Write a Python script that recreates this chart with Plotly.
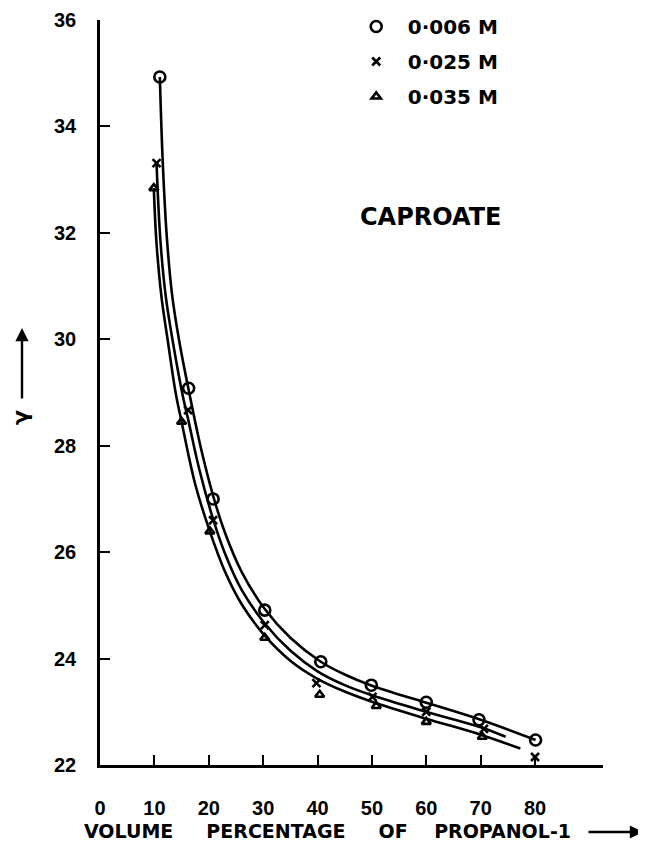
import plotly.graph_objects as go

# ---- measured points ----
c1_x = [11.0, 16.3, 20.8, 30.3, 40.6, 49.9, 60.0, 69.7, 80.1]
c1_y = [34.93, 29.08, 27.0, 24.91, 23.94, 23.5, 23.18, 22.85, 22.47]

c2_x = [10.4, 16.2, 20.8, 30.3, 39.8, 50.1, 60.0, 70.6, 80.0]
c2_y = [33.31, 28.67, 26.6, 24.63, 23.54, 23.28, 23.0, 22.68, 22.15]

c3_x = [9.9, 15.0, 20.2, 30.3, 40.4, 50.8, 60.0, 70.3]
c3_y = [32.84, 28.45, 26.39, 24.39, 23.32, 23.11, 22.81, 22.53]

# ---- smooth drawn curves ----
f1_x = [11.0, 11.55, 12.3, 13.3, 14.6, 16.4, 18.5, 20.8, 23.0, 26.0, 30.3, 35.0, 40.6, 45.0, 50.0, 60.0, 70.0, 80.1]
f1_y = [34.93, 33.3, 31.9, 30.8, 29.95, 29.0, 27.98, 27.06, 26.36, 25.64, 24.93, 24.39, 23.94, 23.70, 23.49, 23.17, 22.85, 22.47]

f2_x = [10.4, 11.1, 12.1, 13.4, 15.2, 16.2, 18.2, 20.8, 23.0, 26.0, 30.3, 35.0, 40.0, 45.0, 50.0, 60.0, 70.0, 74.6]
f2_y = [33.31, 31.87, 30.8, 29.95, 28.95, 28.5, 27.58, 26.62, 25.97, 25.3, 24.66, 24.15, 23.76, 23.5, 23.31, 23.0, 22.71, 22.53]

f3_x = [9.9, 10.35, 11.3, 12.5, 13.9, 15.0, 17.5, 20.2, 23.0, 26.0, 30.3, 35.0, 40.0, 45.0, 50.0, 60.0, 70.0, 77.3]
f3_y = [32.84, 31.87, 30.8, 29.95, 29.0, 28.45, 27.28, 26.39, 25.63, 25.03, 24.43, 23.96, 23.62, 23.38, 23.19, 22.87, 22.57, 22.31]

series_names = ["0·006 M", "0·025 M", "0·035 M"]
x_ticks = [0, 10, 20, 30, 40, 50, 60, 70, 80]
x_tick_text = ["0", "10", "20", "30", "40", "50", "60", "70", "80"]
y_ticks = [22, 24, 26, 28, 30, 32, 34, 36]

NUMFONT = "Liberation Sans"
TXTFONT = "DejaVu Sans"
BLACK = "#000000"

# page body has an 8px offset; plot area in page coords: left 100, top 20, right 603, bottom 765
L, T, R, B = 92, 12, 51, 88
PW = 646 - L - R   # 503
PH = 845 - T - B   # 745


def px(page_x):
    return (page_x - 100) / PW


def py(page_y):
    return (765 - page_y) / PH


NB = "\u00a0"

fig = go.Figure()

for fx, fy in [(f1_x, f1_y), (f2_x, f2_y), (f3_x, f3_y)]:
    fig.add_trace(go.Scatter(x=fx, y=fy, mode="lines", showlegend=False,
                             line=dict(color=BLACK, width=2.6, shape="spline", smoothing=1.0),
                             hoverinfo="skip"))

markers = [
    dict(symbol="circle-open", size=11, line=dict(color=BLACK, width=2.6)),
    dict(symbol="x-thin", size=8, line=dict(color=BLACK, width=2.6)),
    dict(symbol="triangle-up-open", size=8, line=dict(color=BLACK, width=2.6)),
]
for i, (sx, sy) in enumerate([(c1_x, c1_y), (c2_x, c2_y), (c3_x, c3_y)]):
    fig.add_trace(go.Scatter(x=sx, y=sy, mode="markers", name=series_names[i],
                             legendgroup=f"g{i}", marker=dict(color=BLACK, **markers[i])))

fig.update_layout(
    width=646, height=845,
    margin=dict(l=L, r=R, t=T, b=B, autoexpand=False),
    paper_bgcolor="white", plot_bgcolor="white",
    font=dict(family=TXTFONT, color=BLACK, size=17, weight="bold"),
    xaxis=dict(range=[0, 92.5], tickvals=x_ticks, ticktext=x_tick_text, automargin=False,
               ticks="inside", ticklen=10, tickwidth=2.2, tickcolor=BLACK, ticklabelstandoff=23,
               tickfont=dict(family=NUMFONT, size=20, color=BLACK, weight="bold"),
               showline=True, linecolor=BLACK, linewidth=2.6, showgrid=False, zeroline=False),
    yaxis=dict(range=[22, 36], tickvals=y_ticks, ticks="inside", ticklen=10, tickwidth=2.2,
               tickcolor=BLACK, showline=True, linecolor=BLACK, linewidth=2.6, automargin=False,
               showgrid=False, zeroline=False, ticklabelstandoff=17,
               tickfont=dict(family=NUMFONT, size=20, color=BLACK, weight="bold")),
    legend=dict(x=0.4865, y=1.0175, xanchor="left", yanchor="top", bgcolor="rgba(0,0,0,0)",
                font=dict(family=TXTFONT, size=20, color=BLACK, weight="bold"),
                tracegroupgap=6, itemwidth=53),
    annotations=[
        dict(text="CAPROATE", xref="paper", yref="paper", x=px(431), y=py(217),
             xanchor="center", yanchor="middle",
             showarrow=False, font=dict(family=TXTFONT, size=24, color=BLACK, weight="bold")),
        dict(text="VOLUME" + NB * 5 + "PERCENTAGE" + NB * 5 + "OF" + NB * 4 + "PROPANOL-1",
             xref="paper", yref="paper", x=px(82), y=py(831), xanchor="left", yanchor="middle",
             showarrow=False, font=dict(family=TXTFONT, size=19, color=BLACK, weight="bold")),
        dict(text="", xref="paper", yref="paper", x=px(643), y=py(832),
             showarrow=True, ax=-56, ay=0, arrowhead=2, arrowsize=1.1, arrowwidth=2.4,
             arrowcolor=BLACK),
        dict(text="γ", xref="paper", yref="paper", x=px(21), y=py(418),
             xanchor="center", yanchor="middle", textangle=-90, showarrow=False,
             font=dict(family=TXTFONT, size=22, color=BLACK, weight="bold")),
        dict(text="", xref="paper", yref="paper", x=px(22), y=py(328),
             showarrow=True, ax=0, ay=72, arrowhead=2, arrowsize=1.1, arrowwidth=2.4,
             arrowcolor=BLACK),
    ],
)

fig.write_html("out.html")
